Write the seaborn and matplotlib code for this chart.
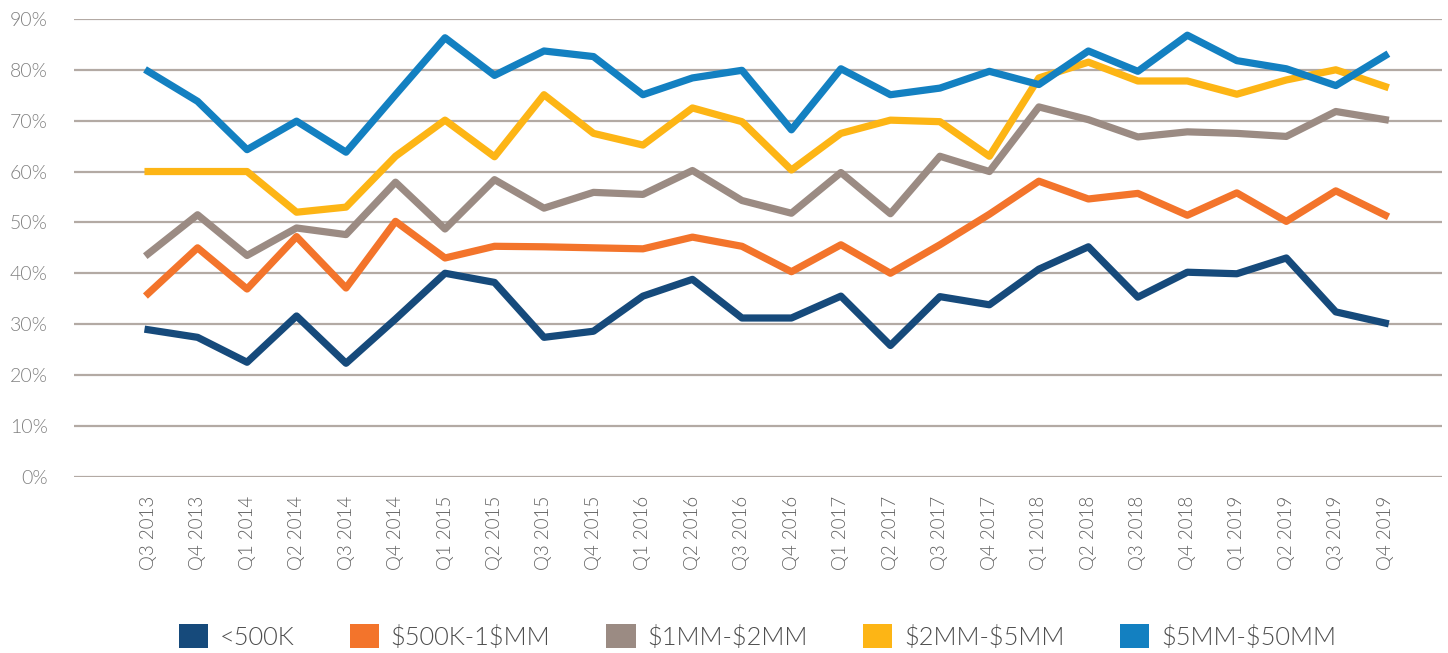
import seaborn as sns
import matplotlib.pyplot as plt
import pandas as pd
from matplotlib.patches import Patch

quarters = ["Q3 2013", "Q4 2013",
            "Q1 2014", "Q2 2014", "Q3 2014", "Q4 2014",
            "Q1 2015", "Q2 2015", "Q3 2015", "Q4 2015",
            "Q1 2016", "Q2 2016", "Q3 2016", "Q4 2016",
            "Q1 2017", "Q2 2017", "Q3 2017", "Q4 2017",
            "Q1 2018", "Q2 2018", "Q3 2018", "Q4 2018",
            "Q1 2019", "Q2 2019", "Q3 2019", "Q4 2019"]

under_500k = [28.9, 27.4, 22.5, 31.6, 22.3, 31.0, 40.0, 38.2, 27.4, 28.6,
              35.5, 38.8, 31.2, 31.2, 35.5, 25.8, 35.4, 33.8, 40.8, 45.2,
              35.3, 40.2, 39.9, 43.0, 32.4, 30.2]
k500_1mm = [36.0, 45.0, 36.9, 47.2, 37.1, 50.2, 43.0, 45.3, 45.2, 45.0,
            44.8, 47.1, 45.3, 40.3, 45.6, 40.0, 45.6, 51.6, 58.1, 54.6,
            55.7, 51.4, 55.8, 50.2, 56.2, 51.4]
mm1_2 = [43.8, 51.5, 43.5, 48.9, 47.6, 57.9, 48.7, 58.4, 52.8, 55.9,
         55.5, 60.2, 54.3, 51.8, 59.8, 51.7, 63.0, 60.0, 72.7, 70.2,
         66.8, 67.8, 67.5, 66.9, 71.8, 70.2]
mm2_5 = [60.0, 60.0, 60.0, 52.0, 53.0, 63.0, 70.1, 62.9, 75.1, 67.5,
         65.2, 72.5, 69.8, 60.3, 67.5, 70.1, 69.8, 63.0, 78.4, 81.5,
         77.8, 77.8, 75.2, 78.0, 80.0, 76.7]
mm5_50 = [79.7, 73.8, 64.3, 69.9, 63.8, 75.1, 86.3, 78.9, 83.7, 82.6,
          75.1, 78.4, 79.9, 68.2, 80.2, 75.1, 76.4, 79.7, 77.1, 83.7,
          79.7, 86.8, 81.8, 80.2, 76.9, 82.8]

series_names = ["<500K", "$500K-1$MM", "$1MM-$2MM", "$2MM-$5MM", "$5MM-$50MM"]
series_values = [under_500k, k500_1mm, mm1_2, mm2_5, mm5_50]
colors = ["#164a7b", "#f3742b", "#9b8b83", "#fdb515", "#1380c1"]

# long-form table for seaborn
df = pd.DataFrame({
    "Quarter": quarters * len(series_names),
    "Segment": [name for name in series_names for _ in quarters],
    "Value": [v for vals in series_values for v in vals],
})

plt.rcParams["font.family"] = ["Lato", "DejaVu Sans"]
plt.rcParams["font.weight"] = 300
plt.rcParams["text.parse_math"] = False  # keep the $ signs literal

fig = plt.figure(figsize=(14.48, 6.53), dpi=100)
ax = fig.add_axes([0.051, 0.27, 0.945, 0.701])

palette = dict(zip(series_names, colors))
sns.lineplot(data=df, x="Quarter", y="Value", hue="Segment", palette=palette,
             hue_order=series_names, sort=False, linewidth=5.2, ax=ax,
             legend=False)

# horizontal grid only
for s in ax.spines.values():
    s.set_visible(False)
ax.set_ylim(0, 90)
ax.set_xlim(-1.5, 26.15)
ax.set_yticks(range(0, 91, 10))
ax.set_yticklabels([f"{t}%" for t in range(0, 91, 10)])
ax.yaxis.grid(True, color="#b3aaa4", linewidth=1.6)
ax.xaxis.grid(False)
ax.set_axisbelow(True)
ax.tick_params(axis="y", length=0, pad=19, labelsize=14, labelcolor="#808080")
ax.tick_params(axis="x", length=0, pad=14, labelsize=13.5, labelcolor="#606060",
               rotation=90)
ax.set_xlabel("")
ax.set_ylabel("")

handles = [Patch(facecolor=c, edgecolor="none") for c in colors]
leg = fig.legend(handles, series_names, loc="lower center",
                 bbox_to_anchor=(0.523, -0.03), ncol=5, frameon=False,
                 fontsize=18.3, handlelength=1.15, handleheight=1.1,
                 handletextpad=0.45, columnspacing=2.2)
for t in leg.get_texts():
    t.set_color("#4d4d4d")

fig.savefig("out.png", dpi=100)
